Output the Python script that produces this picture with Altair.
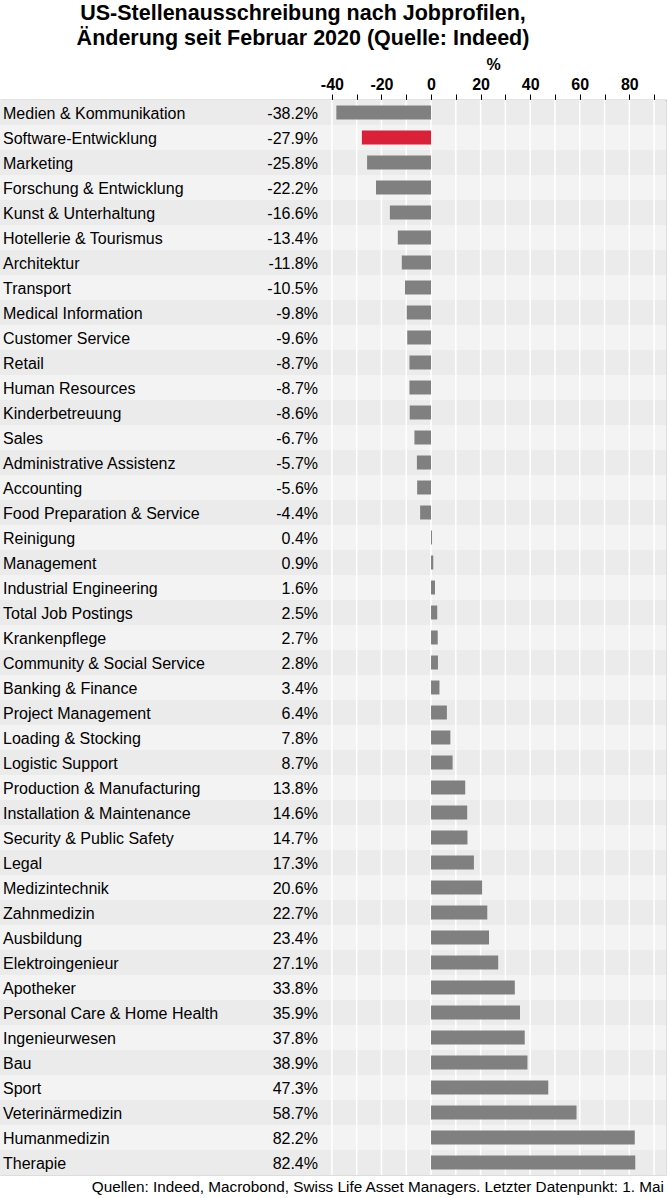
import altair as alt
import pandas as pd

# Job profiles and change in US job postings since February 2020 (%)
categories = [
    "Medien & Kommunikation", "Software-Entwicklung", "Marketing",
    "Forschung & Entwicklung", "Kunst & Unterhaltung", "Hotellerie & Tourismus",
    "Architektur", "Transport", "Medical Information", "Customer Service",
    "Retail", "Human Resources", "Kinderbetreuung", "Sales",
    "Administrative Assistenz", "Accounting", "Food Preparation & Service",
    "Reinigung", "Management", "Industrial Engineering", "Total Job Postings",
    "Krankenpflege", "Community & Social Service", "Banking & Finance",
    "Project Management", "Loading & Stocking", "Logistic Support",
    "Production & Manufacturing", "Installation & Maintenance",
    "Security & Public Safety", "Legal", "Medizintechnik", "Zahnmedizin",
    "Ausbildung", "Elektroingenieur", "Apotheker", "Personal Care & Home Health",
    "Ingenieurwesen", "Bau", "Sport", "Veterinärmedizin", "Humanmedizin",
    "Therapie",
]
values = [
    -38.2, -27.9, -25.8, -22.2, -16.6, -13.4, -11.8, -10.5, -9.8, -9.6,
    -8.7, -8.7, -8.6, -6.7, -5.7, -5.6, -4.4, 0.4, 0.9, 1.6, 2.5, 2.7,
    2.8, 3.4, 6.4, 7.8, 8.7, 13.8, 14.6, 14.7, 17.3, 20.6, 22.7, 23.4,
    27.1, 33.8, 35.9, 37.8, 38.9, 47.3, 58.7, 82.2, 82.4,
]
highlighted = ["Software-Entwicklung"]
grid_ticks = list(range(-40, 100, 10))

title_lines = [
    "US-Stellenausschreibung nach Jobprofilen,",
    "Änderung seit Februar 2020 (Quelle: Indeed)",
]
source_note = "Quellen: Indeed, Macrobond, Swiss Life Asset Managers. Letzter Datenpunkt: 1. Mai"

W, H = 666, 1075
FONT = "Liberation Sans"

df = pd.DataFrame({"Jobprofil": categories, "Wert": values})
df["Label"] = [f"{v:.1f}%" for v in values]
df["Streifen"] = [i % 2 for i in range(len(df))]

x_scale = alt.Scale(domain=[-173.9, 94.8], nice=False, zero=False)
y_enc = alt.Y("Jobprofil:N", sort=categories, axis=None,
              scale=alt.Scale(paddingInner=0, paddingOuter=0))

base = alt.Chart(df)

# alternating row bands
stripes = base.mark_rect().encode(
    y=y_enc,
    x=alt.value(0),
    x2=alt.value(W),
    color=alt.condition(alt.datum.Streifen == 0,
                        alt.value("#ebebeb"), alt.value("#f3f3f3")),
)

# white vertical gridlines above the bands, below the bars
grid = alt.Chart(pd.DataFrame({"t": grid_ticks})).mark_rule(
    color="white", strokeWidth=1.5
).encode(
    x=alt.X("t:Q", scale=x_scale),
    y=alt.value(0),
    y2=alt.value(H),
)

bars = base.mark_bar(size=14).encode(
    y=y_enc,
    x=alt.X(
        "Wert:Q",
        scale=x_scale,
        axis=alt.Axis(
            orient="top",
            values=grid_ticks,
            labelExpr="datum.value % 20 == 0 ? '' + datum.value : ''",
            grid=False,
            domainColor="#8a8a8a",
            domainWidth=1.5,
            tickColor="#000000",
            tickSize=6,
            labelFont=FONT,
            labelFontSize=16,
            labelFontWeight="bold",
            labelColor="#000000",
            labelPadding=2,
            title="%",
            titleFont=FONT,
            titleFontSize=16,
            titleFontWeight="bold",
            titleColor="#000000",
            titleX=493,
            titleY=-31,
            titleAlign="center",
            titleBaseline="alphabetic",
        ),
    ),
    color=alt.condition(
        alt.FieldOneOfPredicate(field="Jobprofil", oneOf=highlighted),
        alt.value("#d92139"),
        alt.value("#808080"),
    ),
)

names = base.mark_text(align="left", baseline="middle", font=FONT, fontSize=16,
                       color="#000000", dy=1).encode(
    y=y_enc, x=alt.value(3), text="Jobprofil:N"
)

labels = base.mark_text(align="right", baseline="middle", font=FONT, fontSize=16,
                        color="#000000", dy=1).encode(
    y=y_enc, x=alt.value(318), text="Label:N"
)

note = alt.Chart(pd.DataFrame({"n": [source_note]})).mark_text(
    align="right", baseline="middle", font=FONT, fontSize=15.3, color="#000000"
).encode(x=alt.value(W - 2), y=alt.value(H + 12), text="n:N")

chart = alt.layer(stripes, grid, bars, names, labels, note).properties(
    width=W,
    height=H,
    padding={"left": 0, "top": 100, "right": 2, "bottom": 22},
    autosize=alt.AutoSizeParams(type="none"),
    title=alt.TitleParams(
        text=title_lines,
        font=FONT,
        fontSize=21.5,
        fontWeight="bold",
        color="#000000",
        anchor="middle",
        dx=-30,
        offset=7,
        lineHeight=25,
    ),
).configure_view(stroke=None).configure(background="white")

chart.save("out.html", embed_options={"renderer": "svg", "actions": False})
